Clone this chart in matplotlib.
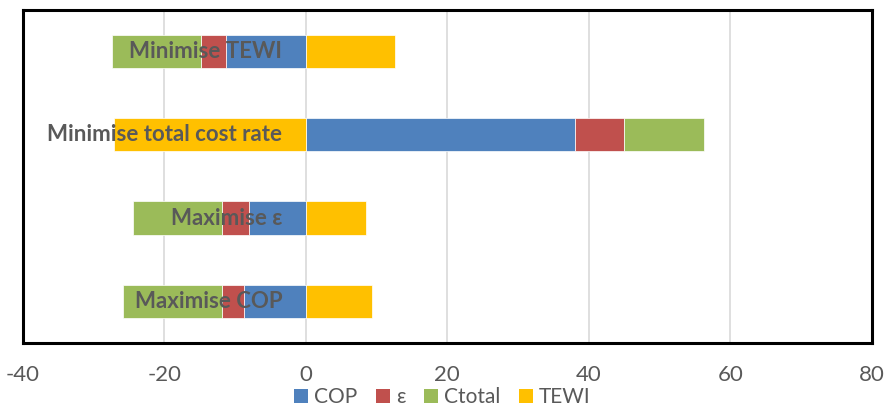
import numpy as np
import matplotlib.pyplot as plt
from matplotlib.patches import Patch

# categories bottom -> top
categories = ['Maximise COP', 'Maximise ε', 'Minimise total cost rate', 'Minimise TEWI']

cop = [-8.8, -8.0, 38.1, -11.3]
eps = [-3.1, -3.9, 6.9, -3.5]
ctotal = [-14.0, -12.5, 11.3, -12.6]
tewi = [9.4, 8.55, -27.2, 12.55]

series_names = ['COP', 'ε', 'Ctotal', 'TEWI']
colors = ['#4F81BD', '#C0504D', '#9BBB59', '#FFC000']
text_grey = '#595959'

plt.rcParams['font.family'] = ['Lato', 'DejaVu Sans']
plt.rcParams['axes.unicode_minus'] = False

fig = plt.figure(figsize=(8.85, 4.13), dpi=100)
ax = fig.add_axes([0.026, 0.1695, 0.959, 0.8065])

y = np.arange(len(categories))
pos_base = np.zeros(len(categories))
neg_base = np.zeros(len(categories))

# Excel-style stacking: positives go right from 0, negatives go left from 0
for vals, col in zip([cop, eps, ctotal, tewi], colors):
    vals = np.array(vals)
    left = np.where(vals >= 0, pos_base, neg_base)
    ax.barh(y, vals, left=left, height=0.4, color=col, edgecolor='white',
            linewidth=0.5, zorder=3)
    pos_base += np.where(vals >= 0, vals, 0)
    neg_base += np.where(vals < 0, vals, 0)

ax.set_xlim(-40, 80)
ax.set_ylim(-0.5, 3.5)
ax.set_xticks(np.arange(-40, 81, 20))
ax.set_yticks([])
ax.grid(axis='x', color='#D9D9D9', linewidth=1.2, zorder=0)
ax.tick_params(axis='x', length=0, pad=16, labelsize=16, labelcolor=text_grey)

for s in ax.spines.values():
    s.set_color('black')
    s.set_linewidth(2.2)

# category labels sit just left of the zero line
for yi, name in zip(y, categories):
    ax.annotate(name, xy=(0, yi), xytext=(-17, 0), textcoords='offset points',
                ha='right', va='center', fontsize=16, fontweight='bold',
                color=text_grey, zorder=5)

handles = [Patch(facecolor=c, edgecolor='none') for c in colors]
fig.legend(handles, series_names, loc='lower center', ncol=4, frameon=False,
           fontsize=15, labelcolor=text_grey, bbox_to_anchor=(0.5, -0.032),
           handlelength=0.65, handleheight=0.65, handletextpad=0.3,
           columnspacing=0.9)

fig.savefig('out.png', dpi=100)
